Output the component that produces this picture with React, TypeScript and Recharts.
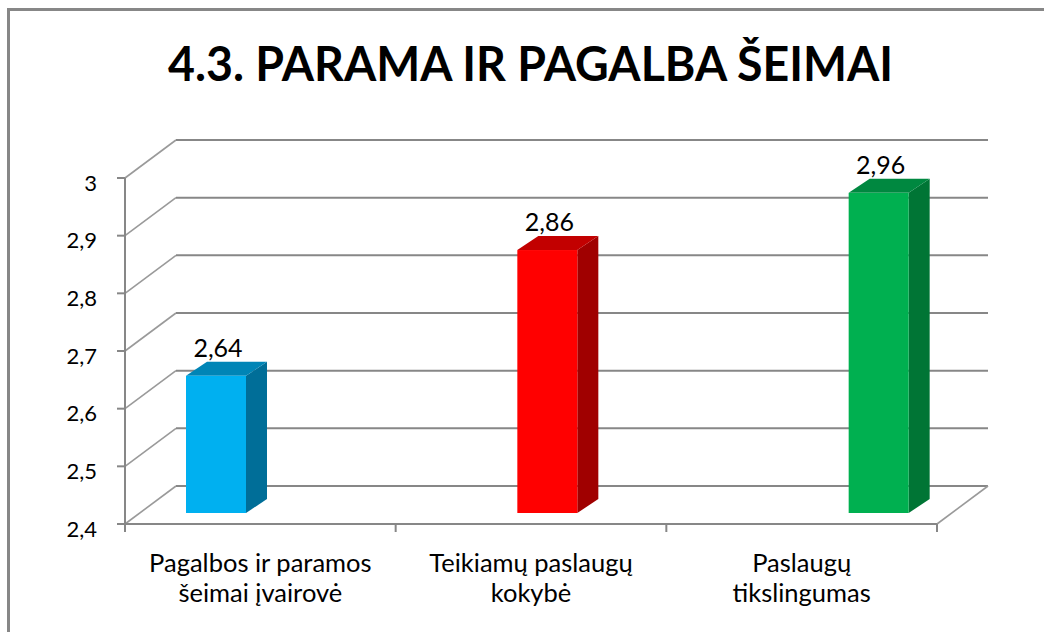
import React from "react";
import { BarChart, Bar, XAxis, YAxis, CartesianGrid, LabelList } from "recharts";

// ---- data ----
const CATEGORIES = ["Pagalbos ir paramos šeimai įvairovė", "Teikiamų paslaugų kokybė", "Paslaugų tikslingumas"];
const CATEGORY_LINES = [
  ["Pagalbos ir paramos", "šeimai įvairovė"],
  ["Teikiamų paslaugų", "kokybė"],
  ["Paslaugų", "tikslingumas"],
];
const VALUES = [2.64, 2.86, 2.96];
const Y_TICKS = [2.4, 2.5, 2.6, 2.7, 2.8, 2.9, 3];
const Y_DOMAIN = [2.4, 3];
const TITLE = "4.3. PARAMA IR PAGALBA ŠEIMAI";

// ---- styles ----
const FRONT_COLORS = ["#00B0F0", "#FF0000", "#00B050"];
const SIDE_COLORS = ["#006E98", "#A00000", "#007535"];
const TOP_COLORS = ["#0085B6", "#C20000", "#008840"];
const GRID = "#878787";
const FONT = "Lato, 'Open Sans', sans-serif";

const W = 1044;
const H = 632;
const DX = 51; // depth offset of back wall
const DY = 38;
const BAR_DX = 21;
const BAR_DY = 14;

// back chart (axes + walls)
const A_LEFT = 125;
const A_RIGHT = 937;
const A_TOP = 178;
const A_BOTTOM = 524;
const Y_AXIS_W = 60;
const X_AXIS_H = 70;
const HALF_BAND = (A_RIGHT - A_LEFT) / CATEGORIES.length / 2;

const fmt = (v: number) => String(v).replace(".", ",");

const data = CATEGORIES.map((name, i) => ({ name, value: VALUES[i], idx: i }));

const GridLine = (props: any) => {
  const { x1, x2, y1 } = props;
  const y = y1;
  const isFloor = Math.abs(y - A_BOTTOM) < 1.5;
  return (
    <g>
      <line x1={x1} y1={y} x2={x1 + DX} y2={y - DY} stroke="#9a9a9a" strokeWidth={1.6} />
      <line x1={x1 + DX} y1={y - DY} x2={x2 + DX} y2={y - DY} stroke={GRID} strokeWidth={2} />
      {isFloor && <line x1={x2} y1={y} x2={x2 + DX} y2={y - DY} stroke="#9a9a9a" strokeWidth={1.6} />}
    </g>
  );
};

const YTick = (props: any) => {
  const { x, y, payload } = props;
  return (
    <text x={x} y={y + 4} textAnchor="end" dominantBaseline="central" fontFamily={FONT} fontSize={22} fill="#000">
      {fmt(payload.value)}
    </text>
  );
};

const XTick = (props: any) => {
  const { x, y, index } = props;
  const lines = CATEGORY_LINES[index] || [];
  return (
    <g>
      <line x1={x - HALF_BAND} y1={y} x2={x - HALF_BAND} y2={y + 8} stroke={GRID} strokeWidth={2} />
      {index === CATEGORIES.length - 1 && (
        <line x1={x + HALF_BAND} y1={y} x2={x + HALF_BAND} y2={y + 8} stroke={GRID} strokeWidth={2} />
      )}
      {lines.map((t: string, i: number) => (
        <text key={i} x={x} y={y + 48 + i * 30} textAnchor="middle" fontFamily={FONT} fontSize={25.5} fill="#000">
          {t}
        </text>
      ))}
    </g>
  );
};

const Bar3D = (props: any) => {
  const { x, y, width, height, index } = props;
  const i = index ?? 0;
  return (
    <g>
      <polygon
        points={`${x + width},${y} ${x + width + BAR_DX},${y - BAR_DY} ${x + width + BAR_DX},${y + height - BAR_DY} ${x + width},${y + height}`}
        fill={SIDE_COLORS[i]}
      />
      <polygon
        points={`${x},${y} ${x + BAR_DX},${y - BAR_DY} ${x + width + BAR_DX},${y - BAR_DY} ${x + width},${y}`}
        fill={TOP_COLORS[i]}
      />
      <rect x={x} y={y} width={width} height={height} fill={FRONT_COLORS[i]} />
    </g>
  );
};

const ValueLabel = (props: any) => {
  const { x, y, width, value } = props;
  return (
    <text x={x + width / 2 + 2} y={y - 19} textAnchor="middle" fontFamily={FONT} fontSize={25} fill="#000">
      {fmt(value)}
    </text>
  );
};

export default function App() {
  return (
    <div style={{ position: "absolute", left: 0, top: 0, width: W, height: H, overflow: "hidden", background: "#fff" }}>
      <div
        style={{
          position: "absolute",
          left: 7,
          top: 8,
          width: W + 50,
          height: H + 50,
          borderLeft: `3px solid ${GRID}`,
          borderTop: `3px solid ${GRID}`,
        }}
      />
      <svg width={W} height={H} style={{ position: "absolute", left: 0, top: 0 }}>
        <text
          x={168}
          y={81}
          textLength={725}
          lengthAdjust="spacingAndGlyphs"
          fontFamily={FONT}
          fontWeight={700}
          fontSize={48}
          fill="#000"
        >
          {TITLE}
        </text>
      </svg>
      <div style={{ position: "absolute", left: 0, top: 0 }}>
        <BarChart
          width={W}
          height={H}
          data={data}
          margin={{ top: A_TOP, right: W - A_RIGHT, left: A_LEFT - Y_AXIS_W, bottom: H - A_BOTTOM - X_AXIS_H }}
        >
          <CartesianGrid vertical={false} horizontal={GridLine} />
          <YAxis
            type="number"
            domain={Y_DOMAIN}
            ticks={Y_TICKS}
            width={Y_AXIS_W}
            axisLine={{ stroke: GRID, strokeWidth: 2 }}
            tickLine={{ stroke: GRID, strokeWidth: 2 }}
            tickSize={8}
            tickMargin={20}
            tick={YTick}
            interval={0}
          />
          <XAxis
            dataKey="name"
            height={X_AXIS_H}
            axisLine={{ stroke: GRID, strokeWidth: 2 }}
            tickLine={false}
            tickSize={0}
            tickMargin={0}
            tick={XTick}
            interval={0}
          />
          <Bar dataKey="value" fill="transparent" isAnimationActive={false} shape={() => null} />
        </BarChart>
      </div>
      <div style={{ position: "absolute", left: 0, top: 0 }}>
        <BarChart width={W} height={H} data={data} margin={{ top: 170, right: 0, left: 50, bottom: H - 513 }}>
          <XAxis dataKey="name" hide />
          <YAxis type="number" domain={Y_DOMAIN} ticks={Y_TICKS} hide />
          <Bar dataKey="value" barSize={60} isAnimationActive={false} shape={Bar3D}>
            <LabelList dataKey="value" content={ValueLabel} />
          </Bar>
        </BarChart>
      </div>
    </div>
  );
}
